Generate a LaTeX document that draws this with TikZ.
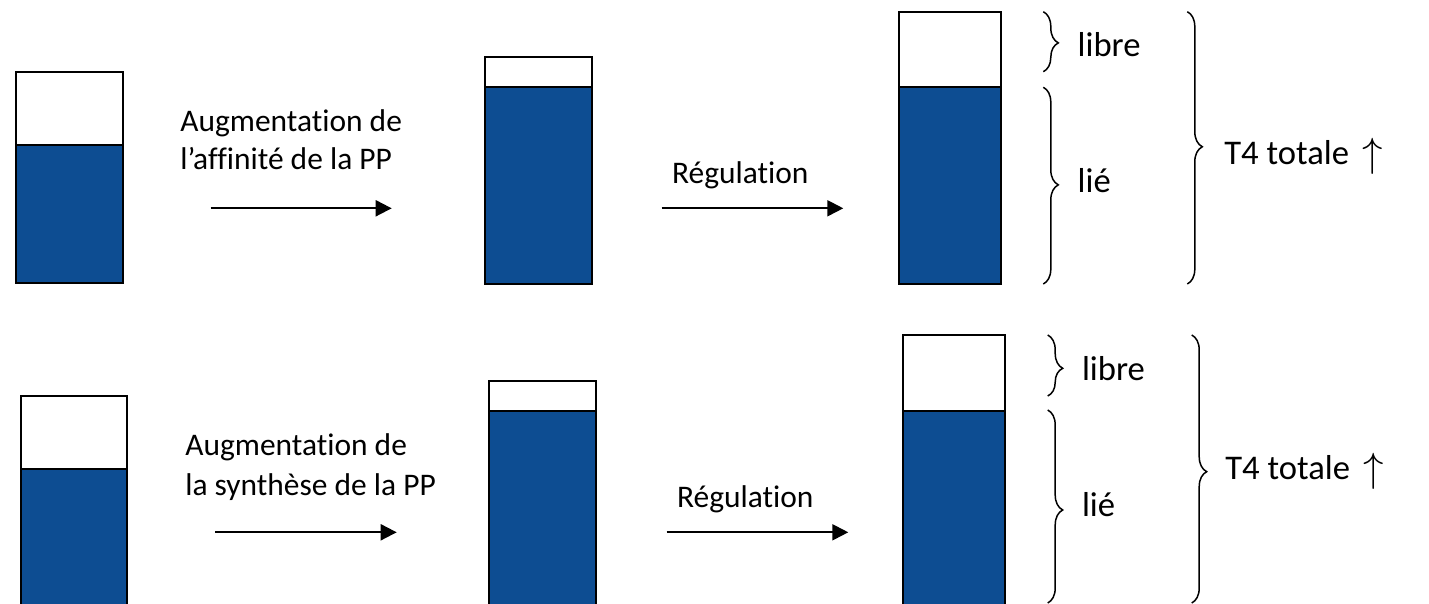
\documentclass[tikz,border=0pt]{standalone}
\usepackage{fontspec}
\setmainfont[Ligatures=NoCommon]{Carlito}
\usetikzlibrary{arrows.meta,decorations.pathreplacing}
\definecolor{fillblue}{RGB}{13,77,146}
\tikzset{
  boxline/.style={draw=black,line width=0.04cm},
  arr/.style={line width=0.04cm,-{Triangle[length=0.32cm,width=0.32cm]}},
  brc/.style={line width=0.03cm,decorate,decoration={brace,amplitude=0.3cm}},
  smalltxt/.style={inner sep=0,anchor=base west,font=\fontsize{17.9}{21}\selectfont},
  bigtxt/.style={inner sep=0,anchor=base west,font=\fontsize{19.7}{23}\selectfont},
}
\newcommand{\vessel}[5]{%
  \fill[fillblue] (#1,#4) rectangle (#2,#5);
  \draw[boxline] (#1,#3) rectangle (#2,#5);
  \draw[boxline] (#1,#4) -- (#2,#4);
}
\newcommand{\upar}{\hspace{0.4em}\raisebox{-0.05em}{\scalebox{1.12}{$\uparrow$}}}
\begin{document}
\begin{tikzpicture}[x=0.02cm,y=-0.02cm]
\useasboundingbox (0,0) rectangle (1429,604);
\clip (0,0) rectangle (1429,604);
% row 1
\vessel{16}{122.7}{71.7}{144.7}{283.3}
\vessel{485}{591.7}{56.7}{86.7}{284}
\vessel{899.3}{1000.7}{11.7}{87.3}{284}
\node[smalltxt] (a1l1) at (180,131.7) {Augmentation de};
\node[smalltxt] (a1l2) at (180,170) {l’affinité de la PP};
\coordinate (a1s) at (210.7,208.3);
\coordinate (a1e) at (391.7,208.3);
\draw[arr] (a1s) -- (a1e);
\node[smalltxt] (r1) at (671.7,183.3) {Régulation};
\coordinate (r1s) at (661.7,208.3);
\coordinate (r1e) at (843.3,208.3);
\draw[arr] (r1s) -- (r1e);
\draw[brc,decoration={aspect=0.52}] (1043.3,11.7) -- (1043.3,71.7);
\draw[brc,decoration={aspect=0.496}] (1043.3,87.3) -- (1043.3,284);
\draw[brc,decoration={aspect=0.496}] (1187.3,11.7) -- (1187.3,284);
\node[bigtxt] (lib1) at (1077.3,56.7) {libre};
\node[bigtxt] (lie1) at (1077.3,192.7) {lié};
\node[bigtxt] (t41) at (1224,165) {T4 totale\upar};
% row 2
\vessel{21}{127}{396}{469}{640}
\vessel{489.3}{596}{381}{410.7}{640}
\vessel{903.3}{1005.3}{335}{410.7}{640}
\node[smalltxt] (a2l1) at (185,455) {Augmentation de};
\node[smalltxt] (a2l2) at (185,495) {la synthèse de la PP};
\coordinate (a2s) at (215,532.3);
\coordinate (a2e) at (396.7,532.3);
\draw[arr] (a2s) -- (a2e);
\node[smalltxt] (r2) at (676.7,507.3) {Régulation};
\coordinate (r2s) at (666.7,532.3);
\coordinate (r2e) at (848.3,532.3);
\draw[arr] (r2s) -- (r2e);
\draw[brc,decoration={aspect=0.546}] (1047.7,335) -- (1047.7,396);
\draw[brc,decoration={aspect=0.518}] (1047.7,410) -- (1047.7,603);
\draw[brc,decoration={aspect=0.51}] (1191.7,335) -- (1191.7,603);
\node[bigtxt] (lib2) at (1081.7,380) {libre};
\node[bigtxt] (lie2) at (1081.7,516.7) {lié};
\node[bigtxt] (t42) at (1225,479.3) {T4 totale\upar};
\end{tikzpicture}
\end{document}
